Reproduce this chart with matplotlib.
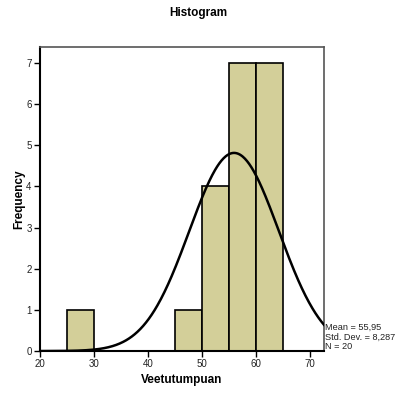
import numpy as np
import matplotlib
matplotlib.use("Agg")
import matplotlib.pyplot as plt

# -----------------------------------
# Data
# -----------------------------------
bin_left = [25, 45, 50, 55, 60]
bin_counts = [1, 1, 4, 7, 7]
bin_width = 5
mean = 55.95
std_dev = 8.287
n_obs = 20

plt.rcParams["font.family"] = ["Liberation Sans", "DejaVu Sans"]

fig = plt.figure(figsize=(3.96, 3.94), dpi=100)
ax = fig.add_axes([0.101, 0.109, 0.717, 0.772])

ax.bar(bin_left, bin_counts, width=bin_width, align="edge",
       color="#d3cf99", edgecolor="black", linewidth=1.2, zorder=2)

x_min, x_max = 20, 72.6
xs = np.linspace(x_min, x_max, 400)
pdf = np.exp(-0.5 * ((xs - mean) / std_dev) ** 2) / (std_dev * np.sqrt(2 * np.pi))
ax.plot(xs, n_obs * bin_width * pdf, color="black", linewidth=1.8, zorder=3)

ax.set_xlim(x_min, x_max)
ax.set_ylim(0, 7.39)
ax.set_xticks([20, 30, 40, 50, 60, 70])
ax.set_yticks(range(0, 8))
ax.tick_params(direction="out", length=4, width=1, labelsize=7, pad=2,
               labelcolor="#222222")

for side in ["left", "bottom"]:
    ax.spines[side].set_linewidth(1.5)
    ax.spines[side].set_color("black")
for side in ["top", "right"]:
    ax.spines[side].set_linewidth(1.2)
    ax.spines[side].set_color("#555555")

ax.set_xlabel("Veetutumpuan", fontsize=8.5, fontweight="bold", labelpad=3)
ax.set_ylabel("Frequency", fontsize=8.5, fontweight="bold", labelpad=1)
fig.text(0.5, 0.967, "Histogram", ha="center", va="center",
         fontsize=8.5, fontweight="bold")

stats = "Mean = 55,95\nStd. Dev. = 8,287\nN = 20"
ax.text(1.005, 0.0, stats, transform=ax.transAxes, ha="left", va="bottom",
        fontsize=6.6, linespacing=1.1, color="#222222")

fig.savefig("out.png", dpi=100)
